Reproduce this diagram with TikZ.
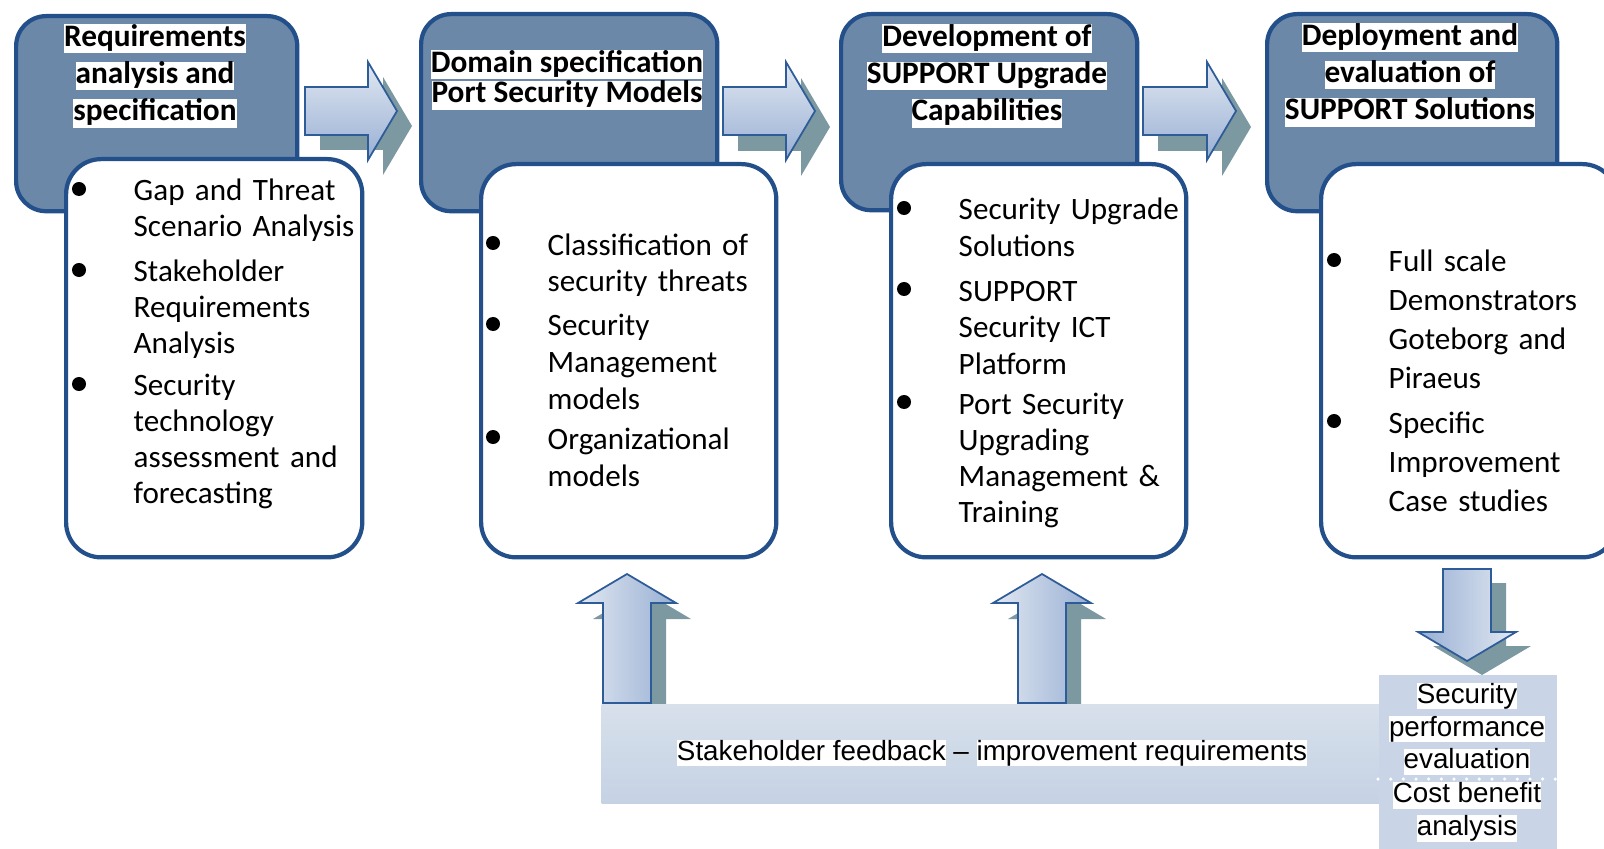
\documentclass[tikz,border=0pt]{standalone}
\usepackage{fontspec}
\setmainfont{Carlito}
\newfontfamily\arialfont{Liberation Sans}
\usetikzlibrary{positioning,calc}

\definecolor{stageblue}{HTML}{6B88A8}
\definecolor{edgeblue}{HTML}{23508A}
\definecolor{arrowlight}{HTML}{E1E8F2}
\definecolor{arrowdark}{HTML}{98AFD3}
\definecolor{arrowedge}{HTML}{2E5C98}
\definecolor{shadowgrey}{HTML}{7C98A0}
\definecolor{bandtop}{HTML}{D7E0EB}
\definecolor{bandbottom}{HTML}{C5D2E4}
\definecolor{panelblue}{HTML}{C9D5E6}

\newcommand{\whitebg}[1]{{\setlength{\fboxsep}{0pt}\colorbox{white}{\rule[-0.22em]{0pt}{0.92em}#1}}}

\begin{document}
\begin{tikzpicture}[
    x=0.01cm, y=-0.01cm,
    stage/.style={draw=edgeblue, line width=1.2pt, fill=stageblue, rounded corners=0.3cm, anchor=north west},
    card/.style={draw=edgeblue, line width=1.2pt, fill=white, rounded corners=0.35cm, anchor=north west},
    stagetitle/.style={font=\bfseries\fontsize{8.9}{10.6}\selectfont, align=center, inner sep=0pt},
    itemtext/.style={font=\fontsize{8.85}{10.2}\selectfont, text width=2.4cm, align=left, anchor=base west, inner sep=0pt},
    bulletdot/.style={circle, fill=black, inner sep=0pt, minimum size=0.14cm},
    hface/.style={draw=arrowedge, line width=0.5pt, top color=arrowlight, bottom color=arrowdark},
    uface/.style={draw=arrowedge, line width=0.5pt, left color=arrowlight, right color=arrowdark},
    dface/.style={draw=arrowedge, line width=0.5pt, left color=arrowdark, right color=arrowlight},
    ashadow/.style={fill=shadowgrey},
    pics/fatarrow/.style args={#1/#2}{code={
        \path[#1] (0,-24) -- (#2,-24) -- (#2,-49) -- (#2+29,0) -- (#2,49) -- (#2,24) -- (0,24) -- cycle;
    }},
    band/.style={top color=bandtop, bottom color=bandbottom, anchor=north west, inner sep=0pt},
    panel/.style={fill=panelblue, anchor=north west, inner sep=0pt},
    sepline/.style={white, line width=1pt, line cap=round, dash pattern=on 0pt off 3.6pt},
    sans/.style={font=\arialfont\fontsize{7.9}{9.35}\selectfont, align=center, inner sep=0pt}
]
    \useasboundingbox (0,0) rectangle (1604,849);
    \clip (0,0) rectangle (1604,849);

    \path (320,126) pic (a1s) {fatarrow=ashadow/63};
    \path (305,111) pic (a1) {fatarrow=hface/63};
    \path (738,127) pic (a2s) {fatarrow=ashadow/63};
    \path (723,111) pic (a2) {fatarrow=hface/63};
    \path (1158,127) pic (a3s) {fatarrow=ashadow/64};
    \path (1143,111) pic (a3) {fatarrow=hface/64};

    \path (642,719) pic[rotate=90] (u1s) {fatarrow=ashadow/100};
    \path (627,703) pic[rotate=90] (u1) {fatarrow=uface/100};
    \path (1057,719) pic[rotate=90] (u2s) {fatarrow=ashadow/100};
    \path (1042,703) pic[rotate=90] (u2) {fatarrow=uface/100};
    \path (1482,583) pic[rotate=-90] (dns) {fatarrow=ashadow/63};
    \path (1467,569) pic[rotate=-90] (dn) {fatarrow=dface/63};

    \node[stage, minimum width=2.81cm, minimum height=1.95cm] (S1) at (14,14) {};
    \node[stage, minimum width=2.96cm, minimum height=1.97cm] (S2) at (419,12) {};
    \node[stage, minimum width=2.96cm, minimum height=1.96cm] (S3) at (839,12) {};
    \node[stage, minimum width=2.90cm, minimum height=1.97cm] (S4) at (1265,12) {};

    \node[stagetitle] (T1) at (155,76) {\whitebg{Requirements}\\\whitebg{analysis and}\\\whitebg{specification}};
    \node[stagetitle, font=\bfseries\fontsize{8.9}{8.6}\selectfont] (T2) at (567,80) {\whitebg{Domain specification}\\\whitebg{Port Security Models}};
    \node[stagetitle] (T3) at (987,76) {\whitebg{Development of}\\\whitebg{SUPPORT Upgrade}\\\whitebg{Capabilities}};
    \node[stagetitle] (T4) at (1410,75) {\whitebg{Deployment and}\\\whitebg{evaluation of}\\\whitebg{SUPPORT Solutions}};

    \node[card, minimum width=2.96cm, minimum height=3.98cm] (C1) at (64,157) {};
    \node[card, minimum width=2.95cm, minimum height=3.93cm] (C2) at (479,162) {};
    \node[card, minimum width=2.95cm, minimum height=3.93cm] (C3) at (889,162) {};
    \node[card, minimum width=2.96cm, minimum height=3.93cm] (C4) at (1319,162) {};

    \node[itemtext] (i11) at (133,201) {Gap and Threat\\Scenario Analysis};
    \node[itemtext] (i12) at (133,282) {Stakeholder\\Requirements\\Analysis};
    \node[itemtext] (i13) at (133,396) {Security\\technology\\assessment and\\forecasting};
    \node[itemtext, font=\fontsize{8.85}{10.4}\selectfont] (i21) at (547,255) {Classification of\\security threats};
    \node[itemtext, font=\fontsize{8.85}{10.4}\selectfont] (i22) at (547,336) {Security\\Management\\models};
    \node[itemtext, font=\fontsize{8.85}{10.7}\selectfont] (i23) at (547,449) {Organizational\\models};
    \node[itemtext, font=\fontsize{8.85}{10.5}\selectfont] (i31) at (958,220) {Security Upgrade\\Solutions};
    \node[itemtext, font=\fontsize{8.85}{10.4}\selectfont] (i32) at (958,301) {SUPPORT\\Security ICT\\Platform};
    \node[itemtext, font=\fontsize{8.85}{10.3}\selectfont] (i33) at (958,414) {Port Security\\Upgrading\\Management \&\\Training};
    \node[itemtext, font=\fontsize{8.85}{11}\selectfont] (i41) at (1388,272) {Full scale\\Demonstrators\\Goteborg and\\Piraeus};
    \node[itemtext, font=\fontsize{8.85}{11.1}\selectfont] (i42) at (1388,433) {Specific\\Improvement\\Case studies};

    \foreach \it in {i11,i12,i13,i21,i22,i23,i31,i32,i33,i41,i42}
        \node[bulletdot] (dot-\it) at ([shift={(-54,-12)}]\it.base west) {};

    \node[band, minimum width=7.77cm, minimum height=0.99cm] (fb) at (601,704) {};
    \node[sans] (fbt) at (992,753) {\whitebg{Stakeholder feedback} – \whitebg{improvement requirements}};

    \node[panel, minimum width=1.78cm, minimum height=1.8cm] (eval) at (1378,674) {};
    \draw[sepline] ([yshift=-1.05cm]eval.north west) -- ([yshift=-1.05cm]eval.north east);
    \node[sans] (perf) at (1467,729) {\whitebg{Security}\\\whitebg{performance}\\\whitebg{evaluation}};
    \node[sans] (cba) at (1467,812) {\whitebg{Cost benefit}\\\whitebg{analysis}};
\end{tikzpicture}
\end{document}
